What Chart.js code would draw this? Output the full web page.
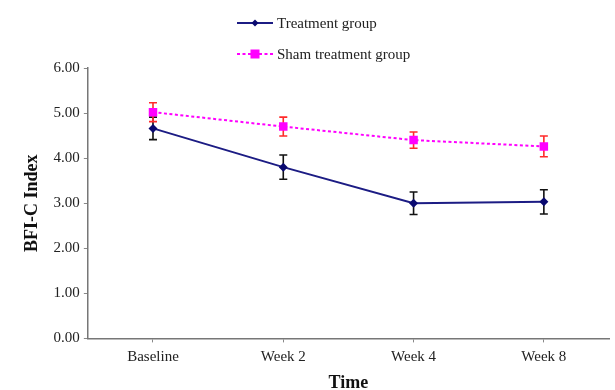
<!DOCTYPE html>
<html>
<head>
<meta charset="utf-8">
<script src="https://cdn.jsdelivr.net/npm/chart.js@4/dist/chart.umd.min.js"></script>
<style>
  html, body { margin: 0; padding: 0; background: #fff; }
  #wrap { position: relative; width: 615px; height: 390px; }
  #legend { position: absolute; left: 237px; top: 13px; font-family: "Liberation Serif", "Times New Roman", serif; font-size: 15px; color: #222; }
  .li { display: flex; align-items: center; height: 20px; margin-bottom: 11px; }
  .li svg { margin-right: 4px; }
</style>
</head>
<body>
<div id="wrap">
  <canvas id="c" width="615" height="390"></canvas>
  <div id="legend">
    <div class="li"><svg width="36" height="10"><line x1="0" y1="5" x2="36" y2="5" stroke="#1c1c84" stroke-width="2"/><polygon points="18,1.5 21.5,5 18,8.5 14.5,5" fill="#0a0a70"/></svg><span>Treatment group</span></div>
    <div class="li"><svg width="36" height="12"><line x1="0" y1="6" x2="36" y2="6" stroke="#ff00ff" stroke-width="2" stroke-dasharray="3,2.5"/><rect x="13.5" y="1.5" width="9" height="9" fill="#ff00ff"/></svg><span>Sham treatment group</span></div>
  </div>
</div>
<script>
const categories = ['Baseline', 'Week 2', 'Week 4', 'Week 8'];
const treatment = [4.66, 3.80, 3.00, 3.03];
const treatmentErr = [0.25, 0.27, 0.25, 0.27];
const sham = [5.02, 4.70, 4.40, 4.26];
const shamErr = [0.21, 0.21, 0.18, 0.23];
const yTicks = [0, 1, 2, 3, 4, 5, 6];

const errorBars = {
  id: 'errorBars',
  beforeDatasetsDraw(chart) {
    const ctx = chart.ctx;
    const ys = chart.scales.y;
    chart.data.datasets.forEach((ds, i) => {
      const meta = chart.getDatasetMeta(i);
      ctx.save();
      ctx.strokeStyle = ds.errColor;
      ctx.lineWidth = 1.6;
      meta.data.forEach((pt, j) => {
        const v = ds.data[j], e = ds.errors[j];
        const x = pt.x;
        const yt = ys.getPixelForValue(v + e);
        const yb = ys.getPixelForValue(v - e);
        ctx.beginPath();
        ctx.moveTo(x, yt); ctx.lineTo(x, yb);
        ctx.moveTo(x - 4, yt); ctx.lineTo(x + 4, yt);
        ctx.moveTo(x - 4, yb); ctx.lineTo(x + 4, yb);
        ctx.stroke();
      });
      ctx.restore();
    });
  }
};

const serif = '"Liberation Serif", "Times New Roman", serif';

new Chart(document.getElementById('c'), {
  type: 'line',
  data: {
    labels: categories,
    datasets: [
      {
        label: 'Treatment group',
        data: treatment,
        errors: treatmentErr,
        errColor: '#111',
        borderColor: '#1c1c84',
        backgroundColor: '#0a0a70',
        borderWidth: 2,
        pointStyle: 'rectRot',
        pointRadius: 4.5,
        pointBorderWidth: 0,
        tension: 0
      },
      {
        label: 'Sham treatment group',
        data: sham,
        errors: shamErr,
        errColor: '#ff2a2a',
        borderColor: '#ff00ff',
        backgroundColor: '#ff00ff',
        borderWidth: 2,
        borderDash: [3, 2.5],
        pointStyle: 'rect',
        pointRadius: 6,
        pointBorderWidth: 0,
        tension: 0
      }
    ]
  },
  options: {
    responsive: false,
    animation: false,
    layout: { padding: { top: 68, right: 0, left: 22, bottom: -4 } },
    plugins: {
      legend: { display: false },
      tooltip: { enabled: false }
    },
    scales: {
      x: {
        offset: true,
        grid: { display: true, drawOnChartArea: false, drawTicks: true, tickLength: 4, color: '#888' },
        border: { color: '#777', width: 1.5 },
        ticks: { color: '#222', font: { family: serif, size: 15 }, padding: 6 },
        title: { display: true, text: 'Time', color: '#111', font: { family: serif, size: 18, weight: 'bold' }, padding: { top: 0, bottom: 0 } }
      },
      y: {
        min: 0,
        max: 6,
        afterBuildTicks(scale) { scale.ticks = yTicks.map(v => ({ value: v })); },
        grid: { display: true, drawOnChartArea: false, drawTicks: true, tickLength: 4, color: '#888' },
        border: { color: '#777', width: 1.5 },
        ticks: { color: '#222', font: { family: serif, size: 15 }, padding: 4, callback: v => Number(v).toFixed(2) },
        title: { display: true, text: 'BFI-C Index', color: '#111', font: { family: serif, size: 18, weight: 'bold' }, padding: { top: 0, bottom: 6 } }
      }
    }
  },
  plugins: [errorBars]
});
</script>
</body>
</html>
